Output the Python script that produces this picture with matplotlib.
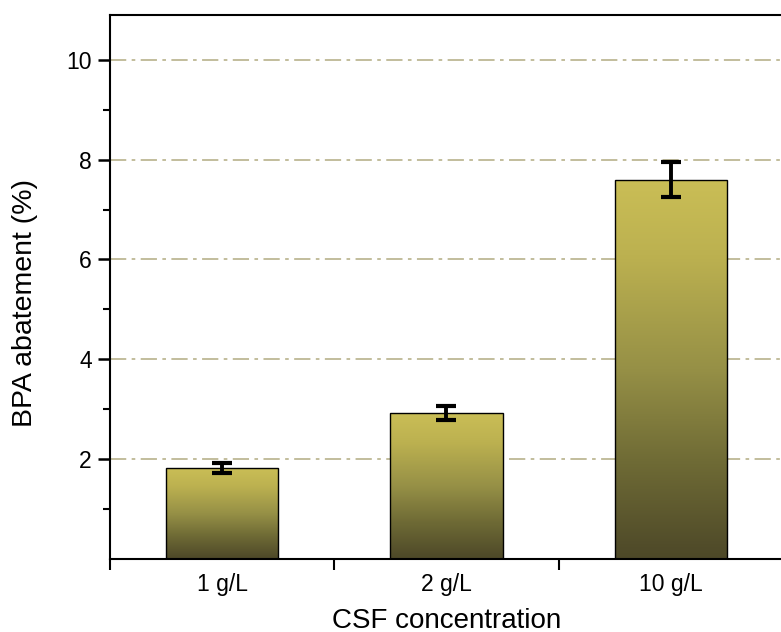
import numpy as np
import matplotlib.pyplot as plt
from matplotlib.colors import LinearSegmentedColormap

plt.rcParams['font.family'] = ['Liberation Sans', 'DejaVu Sans']

concentrations = ['1 g/L', '2 g/L', '10 g/L']
abatement = [1.82, 2.92, 7.6]
abatement_err = [0.10, 0.14, 0.35]

# olive gradient, dark at the base and light at the top of each bar
olive = LinearSegmentedColormap.from_list(
    'olive', [(0.0, '#4d4828'), (0.25, '#6e6a35'), (0.5, '#969046'),
              (0.8, '#bcb150'), (1.0, '#cabe56')])

fig = plt.figure(figsize=(7.81, 6.32), dpi=100)
ax = fig.add_axes([0.1408, 0.1159, 0.8618, 0.8604])

x = np.arange(1, len(concentrations) + 1)
bars = ax.bar(x, abatement, width=0.5, color='none', edgecolor='black',
              linewidth=1.0, zorder=3)
grad = np.linspace(0, 1, 256).reshape(-1, 1)
for b in bars:
    x0, y0 = b.get_x(), b.get_y()
    im = ax.imshow(grad, cmap=olive, origin='lower', aspect='auto',
                   extent=[x0, x0 + b.get_width(), y0, y0 + b.get_height()],
                   zorder=2)
    im.set_clip_path(b)

ax.errorbar(x, abatement, yerr=abatement_err, fmt='none', ecolor='black',
            elinewidth=2.8, capsize=7, capthick=3, zorder=4)

ax.set_xlim(0.5, 3.5)
ax.set_ylim(0, 10.9)

ax.set_yticks([2, 4, 6, 8, 10])
ax.set_yticks([1, 3, 5, 7, 9], minor=True)
ax.yaxis.grid(True, which='major', color='#bdb894', linestyle=(0, (9, 3, 2, 3)),
              linewidth=1.3, zorder=0)
ax.set_axisbelow(True)

ax.set_xticks([0.5, 1.5, 2.5, 3.5])
ax.set_xticklabels([])
ax.set_xticks(x, minor=True)
ax.set_xticklabels(concentrations, minor=True)
ax.tick_params(axis='x', which='minor', length=0, pad=10, labelsize=16.5)
ax.tick_params(axis='x', which='major', length=8, width=1.5, direction='out')
ax.tick_params(axis='y', which='major', length=9, width=1.8, direction='out',
               labelsize=16.5, pad=4)
ax.tick_params(axis='y', which='minor', length=5, width=1.5, direction='out')

for side in ['left', 'bottom', 'top', 'right']:
    ax.spines[side].set_linewidth(1.5)

ax.set_ylabel('BPA abatement (%)', fontsize=20.5)
ax.yaxis.set_label_coords(-0.107, 0.47)
ax.set_xlabel('CSF concentration', fontsize=20, labelpad=9)

fig.savefig('out.png', dpi=100)
